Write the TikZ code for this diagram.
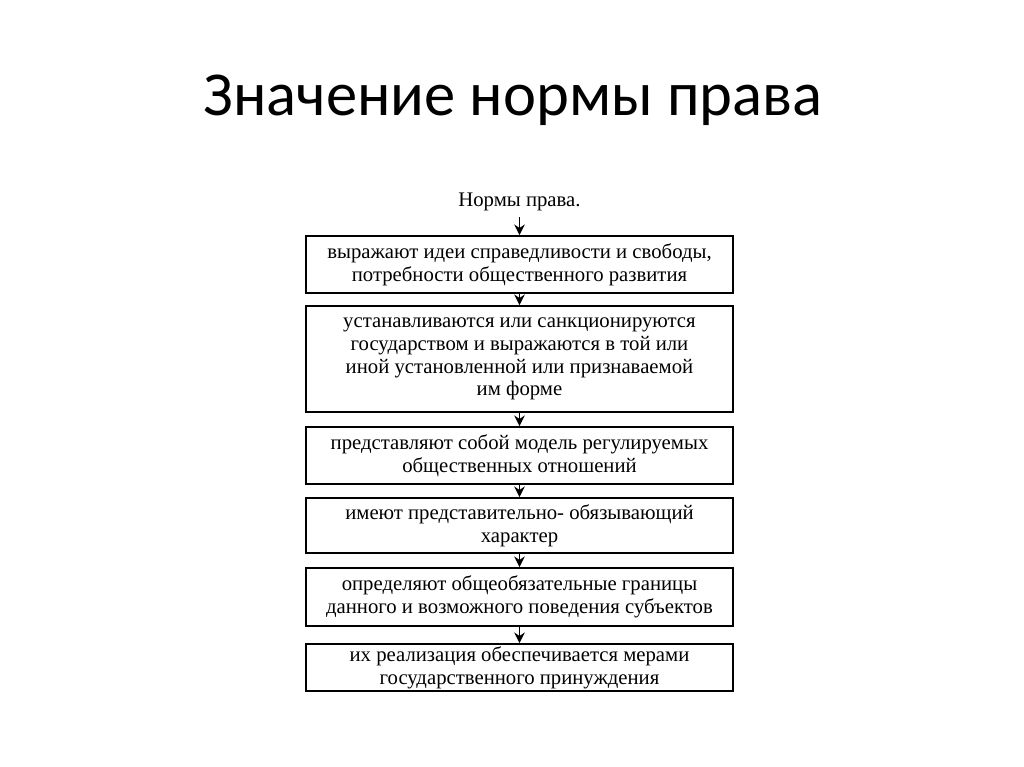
\documentclass[tikz,border=0pt]{standalone}
\usepackage{fontspec}
\setmainfont{Liberation Serif}
\newfontfamily\titlefont{Carlito}
\usetikzlibrary{arrows.meta}

\begin{document}
\begin{tikzpicture}[x=0.02cm,y=-0.02cm,
    box/.style={rectangle,draw,line width=1.1pt,minimum width=8.54cm,align=center,
        inner sep=0pt,font=\fontsize{11.8}{12.9}\selectfont},
    arr/.style={-{Stealth[length=6pt,width=6pt]},line width=1.1pt}]
    \useasboundingbox (0,0) rectangle (1024,767);

    \node (title) at (513,100) {\titlefont\fontsize{35.6}{38}\selectfont Значение нормы права};

    \node[font=\fontsize{11.8}{12.9}\selectfont] (head) at (519.5,202) {Нормы права.};
    \node[box,minimum height=1.14cm] (b1) at (519.5,264.5) {выражают идеи справедливости и свободы,\\потребности общественного развития};
    \node[box,minimum height=2.12cm] (b2) at (519.5,359) {устанавливаются или санкционируются\\государством и выражаются в той или\\иной установленной или признаваемой\\им форме};
    \node[box,minimum height=1.14cm] (b3) at (519.5,455.5) {представляют собой модель регулируемых\\общественных отношений};
    \node[box,minimum height=1.1cm] (b4) at (519.5,525.5) {имеют представительно- обязывающий\\характер};
    \node[box,minimum height=1.16cm] (b5) at (519.5,597) {определяют общеобязательные границы\\данного и возможного поведения субъектов};
    \node[box,minimum height=0.94cm] (b6) at (519.5,667.5) {их реализация обеспечивается мерами\\государственного принуждения};

    \draw[arr] (head) -- (b1);
    \draw[arr] (b1) -- (b2);
    \draw[arr] (b2) -- (b3);
    \draw[arr] (b3) -- (b4);
    \draw[arr] (b4) -- (b5);
    \draw[arr] (b5) -- (b6);
\end{tikzpicture}
\end{document}
